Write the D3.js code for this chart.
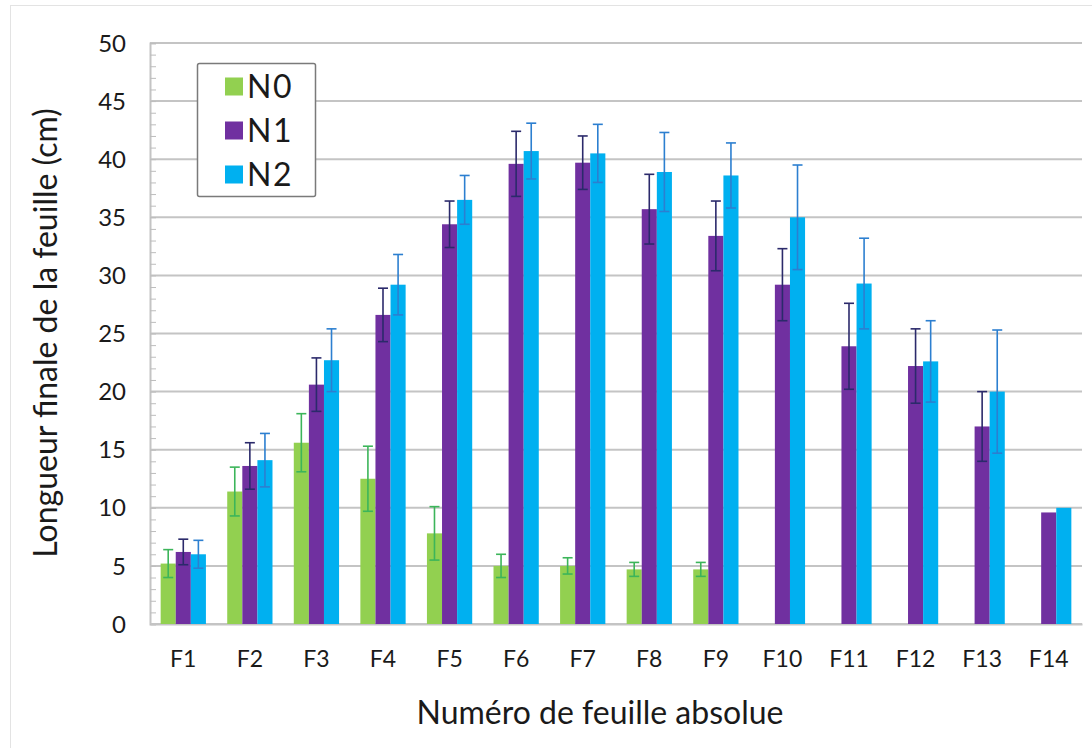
<!DOCTYPE html>
<html>
<head>
<meta charset="utf-8">
<script src="https://cdn.jsdelivr.net/npm/d3@7"></script>
<style>
  html, body { margin: 0; padding: 0; background: #ffffff; }
  svg { display: block; }
  text { font-family: Lato, "Noto Sans", sans-serif; fill: #1a1a1a; }
</style>
</head>
<body>
<svg id="chart" width="1092" height="748"></svg>
<script>
// Leaf categories (absolute leaf number)
const categories = ["F1","F2","F3","F4","F5","F6","F7","F8","F9","F10","F11","F12","F13","F14"];

// Treatments
const seriesNames = ["N0", "N1", "N2"];

// Final leaf length (cm) per treatment
const valuesN0 = [5.2, 11.4, 15.6, 12.5, 7.8, 5.0, 5.0, 4.7, 4.7, null, null, null, null, null];
const valuesN1 = [6.2, 13.6, 20.6, 26.6, 34.4, 39.6, 39.7, 35.7, 33.4, 29.2, 23.9, 22.2, 17.0, 9.6];
const valuesN2 = [6.0, 14.1, 22.7, 29.2, 36.5, 40.7, 40.5, 38.9, 38.6, 35.0, 29.3, 22.6, 20.0, 10.0];

// Standard deviations (cm); 0 means no error bar
const errorsN0 = [1.2, 2.1, 2.5, 2.8, 2.3, 1.0, 0.7, 0.6, 0.6, null, null, null, null, null];
const errorsN1 = [1.1, 2.0, 2.3, 2.3, 2.0, 2.8, 2.3, 3.0, 3.0, 3.1, 3.7, 3.2, 3.0, 0];
const errorsN2 = [1.2, 2.3, 2.7, 2.6, 2.1, 2.4, 2.5, 3.4, 2.8, 4.5, 3.9, 3.5, 5.3, 0];

// Y axis tick values
const yTicks = [0, 5, 10, 15, 20, 25, 30, 35, 40, 45, 50];

const seriesValues = [valuesN0, valuesN1, valuesN2];
const seriesErrors = [errorsN0, errorsN1, errorsN2];
const barColors = ["#92D050", "#7030A0", "#00B0F0"];
const errColors = ["#3cb55a", "#2b2a6b", "#2c7fd0"];

const svg = d3.select("#chart");

// Outer chart frame
svg.append("rect")
  .attr("x", 10.5).attr("y", 5.5)
  .attr("width", 1200).attr("height", 900)
  .attr("fill", "none").attr("stroke", "#e3e3e3").attr("stroke-width", 1);

const plot = { left: 150, right: 1082, top: 43, bottom: 624 };

const x = d3.scaleBand()
  .domain(categories)
  .range([plot.left, plot.right])
  .paddingInner(0.32)
  .paddingOuter(0.16);

const xSeries = d3.scaleBand()
  .domain(seriesNames)
  .range([0, x.bandwidth()])
  .padding(0);

const y = d3.scaleLinear()
  .domain([0, 50])
  .range([plot.bottom, plot.top]);

// Horizontal gridlines
svg.append("g")
  .selectAll("line")
  .data(yTicks)
  .join("line")
  .attr("x1", plot.left).attr("x2", plot.right)
  .attr("y1", d => y(d)).attr("y2", d => y(d))
  .attr("stroke", "#c4c4c4").attr("stroke-width", 2);

// Y axis with minor ticks every 1 cm, drawn inside the plot
const yAxis = d3.axisRight(y)
  .ticks(50)
  .tickSize(6)
  .tickFormat("");
const yAxisG = svg.append("g")
  .attr("transform", `translate(${plot.left},0)`)
  .call(yAxis);
yAxisG.select(".domain").attr("stroke", "#c4c4c4").attr("stroke-width", 2);
yAxisG.selectAll(".tick line").attr("stroke", "#bdbdbd").attr("stroke-width", 1);

// Y tick labels
svg.append("g")
  .selectAll("text")
  .data(yTicks)
  .join("text")
  .attr("x", 126)
  .attr("y", d => y(d))
  .attr("dy", "0.36em")
  .attr("text-anchor", "end")
  .attr("font-size", 24)
  .text(d => d);

// X axis labels
const xAxis = d3.axisBottom(x).tickSize(0).tickPadding(0);
const xAxisG = svg.append("g")
  .attr("transform", `translate(0,${plot.bottom})`)
  .call(xAxis);
xAxisG.select(".domain").attr("stroke", "#c4c4c4").attr("stroke-width", 2);
xAxisG.selectAll(".tick text")
  .attr("y", 35)
  .attr("dy", "0.36em")
  .attr("font-size", 23)
  .attr("font-family", "Lato, 'Noto Sans', sans-serif")
  .attr("fill", "#1a1a1a");

// Bars and error bars
const groups = svg.append("g")
  .selectAll("g")
  .data(categories)
  .join("g")
  .attr("transform", d => `translate(${x(d)},0)`);

seriesNames.forEach((name, si) => {
  const vals = seriesValues[si];
  const errs = seriesErrors[si];
  const bw = xSeries.bandwidth();

  groups.filter((d, i) => vals[i] != null)
    .append("rect")
    .attr("x", xSeries(name))
    .attr("width", bw)
    .attr("y", (d) => y(vals[categories.indexOf(d)]))
    .attr("height", (d) => y(0) - y(vals[categories.indexOf(d)]))
    .attr("fill", barColors[si]);

  const eb = groups.filter((d, i) => vals[i] != null && errs[i])
    .append("g")
    .attr("stroke", errColors[si])
    .attr("stroke-width", 1.6)
    .attr("fill", "none");
  const cx = xSeries(name) + bw / 2;
  const cap = 5;
  eb.append("line")
    .attr("x1", cx).attr("x2", cx)
    .attr("y1", d => { const i = categories.indexOf(d); return y(vals[i] - errs[i]); })
    .attr("y2", d => { const i = categories.indexOf(d); return y(vals[i] + errs[i]); });
  eb.append("line")
    .attr("x1", cx - cap).attr("x2", cx + cap)
    .attr("y1", d => { const i = categories.indexOf(d); return y(vals[i] + errs[i]); })
    .attr("y2", d => { const i = categories.indexOf(d); return y(vals[i] + errs[i]); });
  eb.append("line")
    .attr("x1", cx - cap).attr("x2", cx + cap)
    .attr("y1", d => { const i = categories.indexOf(d); return y(vals[i] - errs[i]); })
    .attr("y2", d => { const i = categories.indexOf(d); return y(vals[i] - errs[i]); });
});

// Axis titles
svg.append("text")
  .attr("x", 600)
  .attr("y", 724)
  .attr("text-anchor", "middle")
  .attr("font-size", 32)
  .text("Numéro de feuille absolue");

svg.append("text")
  .attr("transform", "translate(57,333) rotate(-90)")
  .attr("text-anchor", "middle")
  .attr("font-size", 32)
  .text("Longueur finale de la feuille (cm)");

// Legend
const legend = svg.append("g");
legend.append("rect")
  .attr("x", 197.5).attr("y", 63.5)
  .attr("width", 118).attr("height", 133)
  .attr("rx", 2)
  .attr("fill", "#ffffff")
  .attr("stroke", "#7a7a7a")
  .attr("stroke-width", 1.5);

const legendRow = d3.scalePoint()
  .domain(seriesNames)
  .range([86.5, 174.5]);

const items = legend.selectAll("g.item")
  .data(seriesNames)
  .join("g")
  .attr("class", "item")
  .attr("transform", d => `translate(0,${legendRow(d)})`);
items.append("rect")
  .attr("x", 225).attr("y", -9)
  .attr("width", 18).attr("height", 18)
  .attr("fill", (d, i) => barColors[i]);
items.append("text")
  .attr("x", 247)
  .attr("y", 0)
  .attr("dy", "0.36em")
  .attr("font-size", 32)
  .attr("letter-spacing", 1.5)
  .text(d => d);
</script>
</body>
</html>
